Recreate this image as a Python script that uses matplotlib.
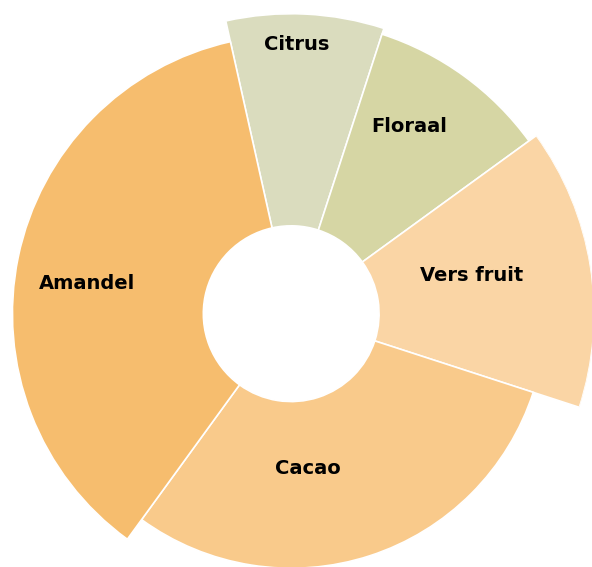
import numpy as np
import matplotlib
matplotlib.use("Agg")
import matplotlib.pyplot as plt

# aroma-profiel: aandeel (%) bepaalt de hoek, score de lengte van het segment
categories = ["Citrus", "Floraal", "Vers fruit", "Cacao", "Amandel"]
shares = [8.5, 10, 15, 30, 36.5]
scores = [9.9, 9.7, 10.0, 8.4, 9.2]
hole = 2.9
colors = ["#DADCBE", "#D6D6A4", "#FAD5A5", "#F9CA8B", "#F6BD6E"]

# label positions (angle in degrees clockwise from top, radius in score units)
label_angle = [1.2, 32.3, 78.2, 173.8, 278.3]
label_radius = [8.9, 7.3, 6.1, 5.15, 6.8]

start = -12.6  # degrees
widths = np.deg2rad(np.array(shares) / sum(shares) * 360)
starts = np.deg2rad(start) + np.concatenate([[0], np.cumsum(widths)[:-1]])
mids = starts + widths / 2

W, H = 592, 567
fig = plt.figure(figsize=(W / 100, H / 100), dpi=100)
cx, cy, R = 291.2, 313.7, 303
ax = fig.add_axes([(cx - R) / W, (H - cy - R) / H, 2 * R / W, 2 * R / H], projection="polar")
ax.set_theta_zero_location("N")
ax.set_theta_direction(-1)

heights = [s - hole for s in scores]
ax.bar(mids, heights, width=widths, bottom=hole, color=colors,
       edgecolor="white", linewidth=1.2, align="center")

for name, a, r in zip(categories, label_angle, label_radius):
    ax.text(np.deg2rad(a), r, name, ha="center", va="center",
            fontsize=14, fontweight="bold", color="black")

ax.set_ylim(0, 10)
ax.set_axis_off()

fig.savefig("out.png", dpi=100)
